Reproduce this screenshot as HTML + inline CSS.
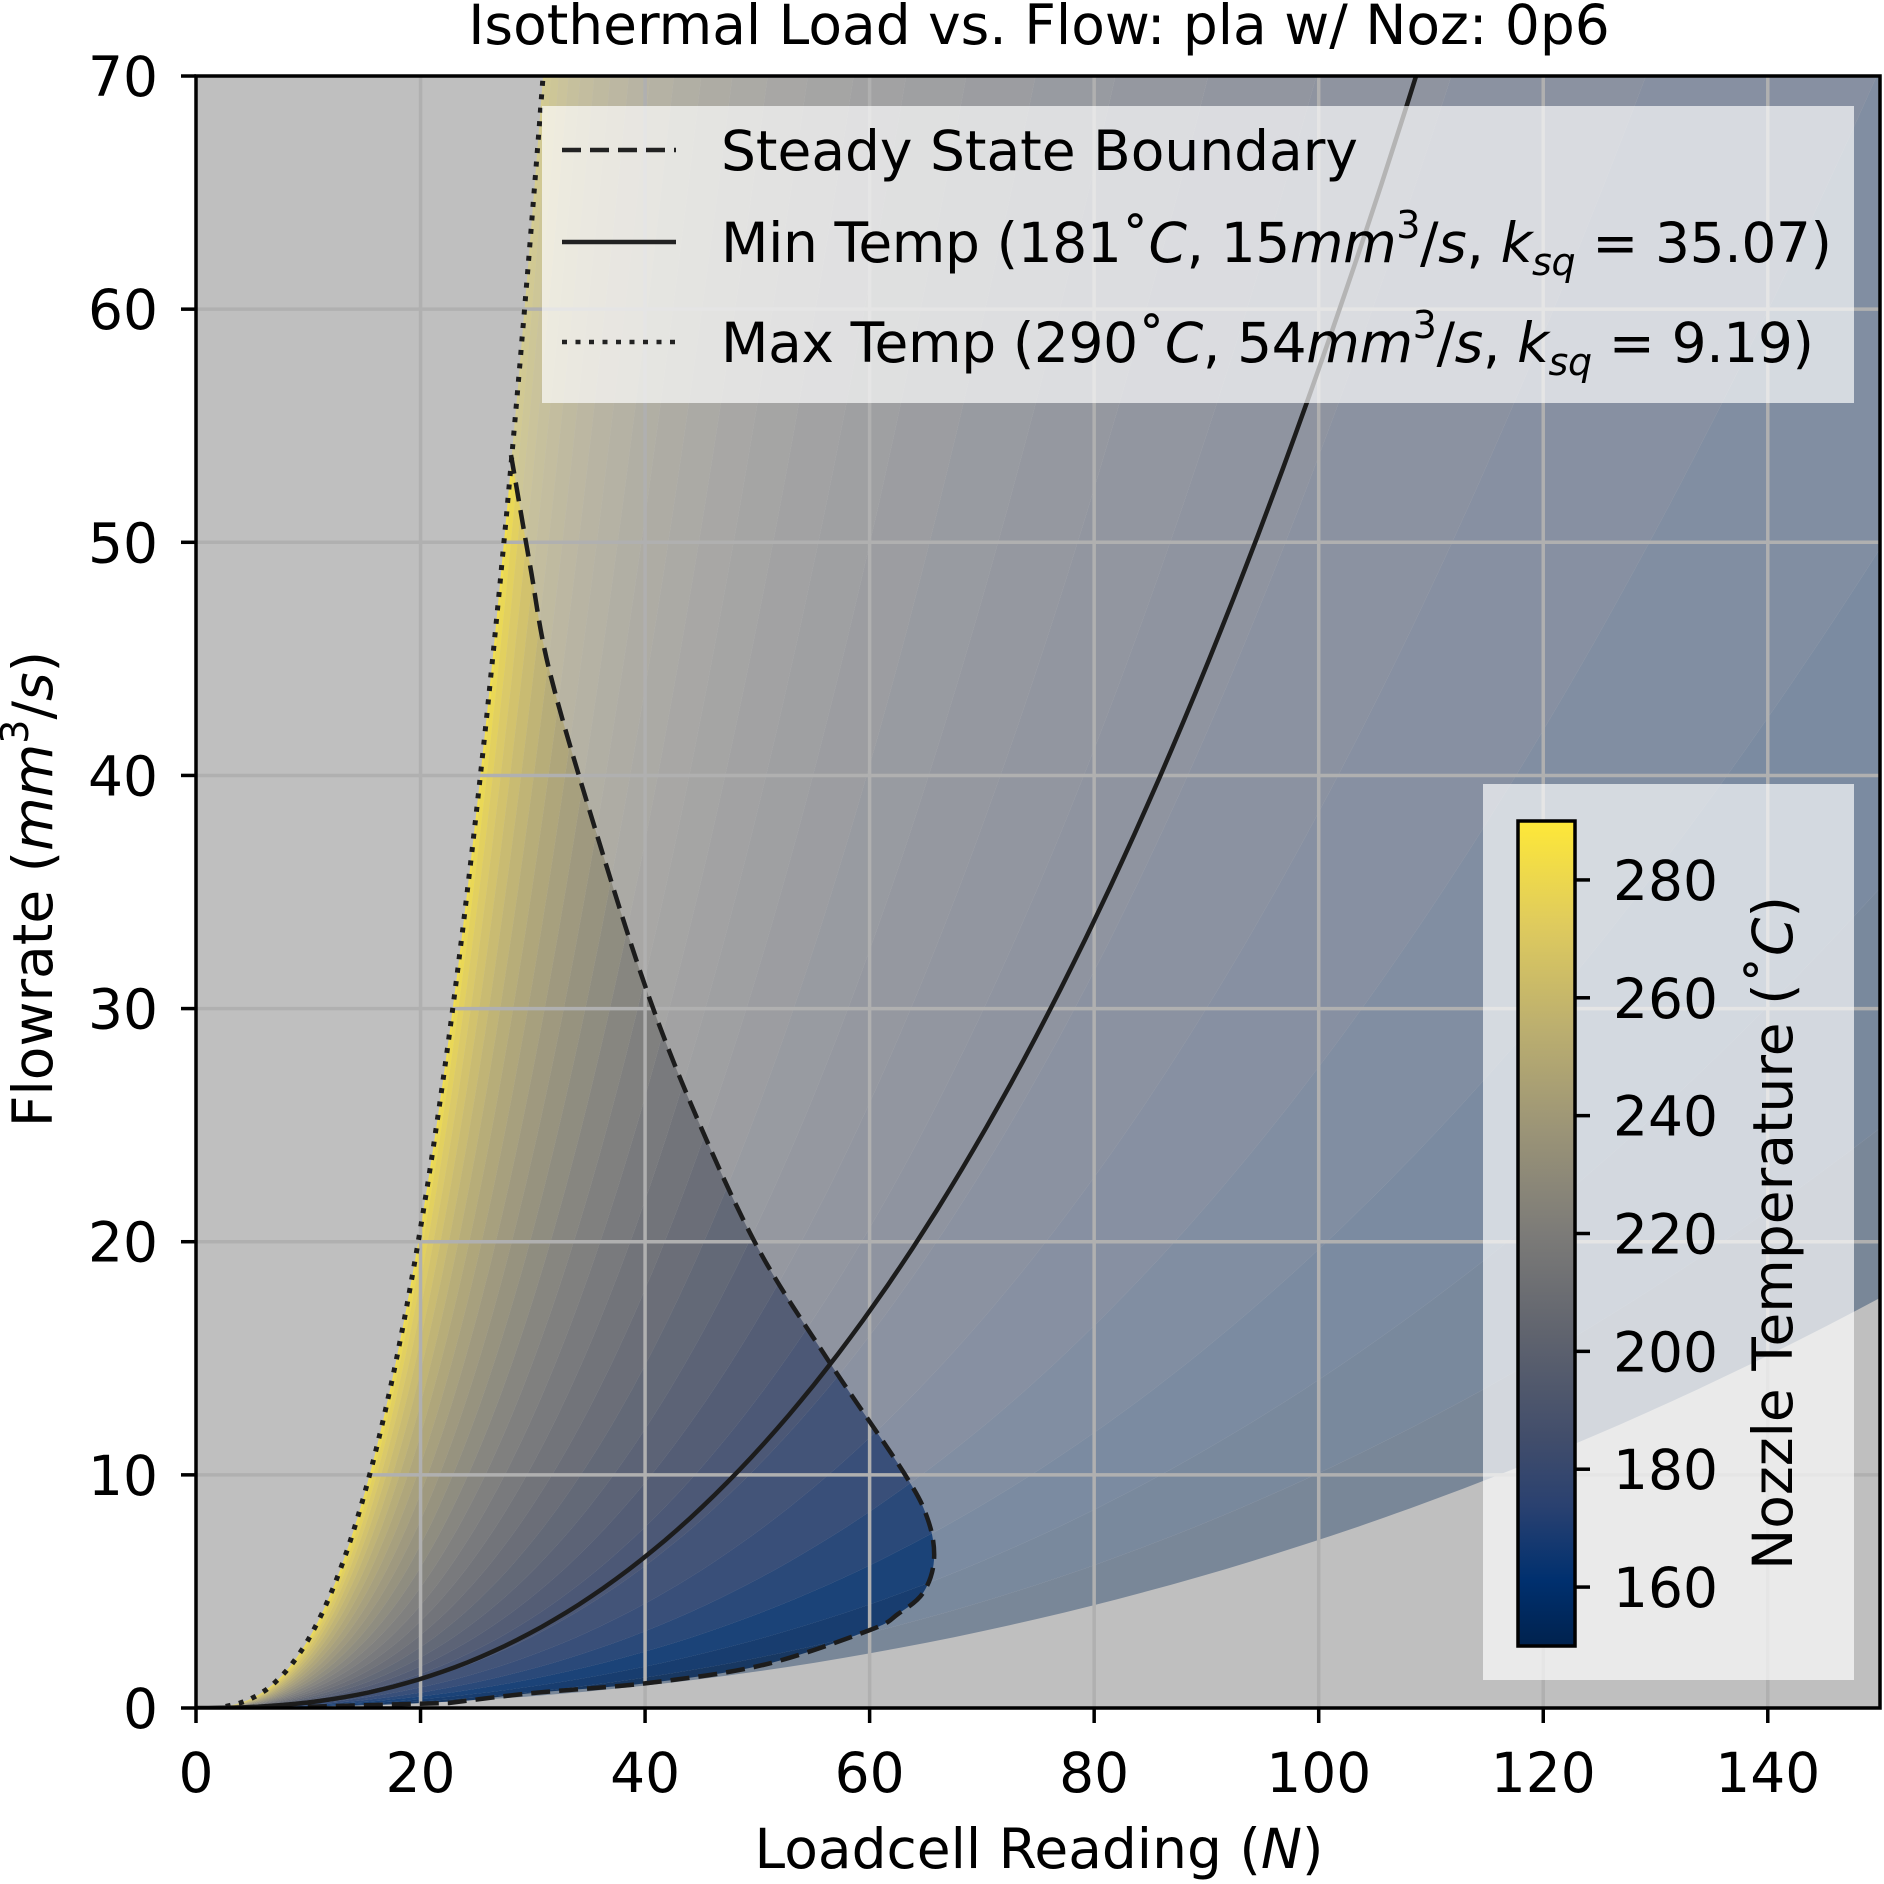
<!DOCTYPE html>
<html><head><meta charset="utf-8">
<style>
html,body{margin:0;padding:0;background:#fff;}
svg{display:block;}
text{font-family:"DejaVu Sans","Liberation Sans",sans-serif;fill:#000;}
</style></head>
<body>
<svg id="s" xmlns="http://www.w3.org/2000/svg" width="1884" height="1884" viewBox="0 0 1884 1884">
<defs>
<clipPath id="ax"><rect x="196" y="76" width="1684" height="1632"/></clipPath>
<clipPath id="ss"><path id="ssp" d=""/></clipPath>
<linearGradient id="cg" x1="0" y1="1" x2="0" y2="0">
<stop offset="0" stop-color="#00224e"/><stop offset="0.08" stop-color="#00306f"/>
<stop offset="0.17" stop-color="#2a4170"/><stop offset="0.25" stop-color="#414d6b"/>
<stop offset="0.375" stop-color="#5f636e"/><stop offset="0.5" stop-color="#7c7b78"/>
<stop offset="0.625" stop-color="#9b9477"/><stop offset="0.75" stop-color="#bcaf6f"/>
<stop offset="0.875" stop-color="#dfcb5d"/><stop offset="1" stop-color="#fee838"/>
</linearGradient>
</defs>
<rect x="196" y="76" width="1684" height="1632" fill="#bfbfbf"/>
<g id="outer" clip-path="url(#ax)" opacity="0.36"></g>
<g clip-path="url(#ax)" opacity="0.8"><g id="inner" clip-path="url(#ss)"></g></g>
<g id="grid" stroke="#b0b0b0" stroke-width="3.5"></g>
<g id="curves" clip-path="url(#ax)" fill="none"></g>
<!-- legend -->
<rect x="542" y="106" width="1312" height="297" fill="#ffffff" fill-opacity="0.67"/>
<g stroke="#222" stroke-width="4.5">
<line x1="562" y1="150" x2="676" y2="150" stroke-dasharray="19 9"/>
<line x1="562" y1="242" x2="676" y2="242"/>
<line x1="562" y1="342" x2="676" y2="342" stroke-dasharray="5 8.5"/>
</g>
<text x="721" y="170" font-size="55">Steady State Boundary</text>
<text x="721" y="262" font-size="55" textLength="1111" lengthAdjust="spacing">Min Temp (181˚<tspan font-style="italic">C</tspan>, 15<tspan font-style="italic">mm</tspan><tspan font-size="38" dy="-24">3</tspan><tspan dy="24">/</tspan><tspan font-style="italic">s</tspan>, <tspan font-style="italic">k</tspan><tspan font-size="38" font-style="italic" dy="13">sq</tspan><tspan dy="-13"> = 35.07)</tspan></text>
<text x="721" y="362" font-size="55" textLength="1093" lengthAdjust="spacing">Max Temp (290˚<tspan font-style="italic">C</tspan>, 54<tspan font-style="italic">mm</tspan><tspan font-size="38" dy="-24">3</tspan><tspan dy="24">/</tspan><tspan font-style="italic">s</tspan>, <tspan font-style="italic">k</tspan><tspan font-size="38" font-style="italic" dy="13">sq</tspan><tspan dy="-13"> = 9.19)</tspan></text>
<!-- colorbar -->
<rect x="1483" y="784" width="371" height="896" fill="#ffffff" fill-opacity="0.67"/>
<rect x="1518" y="821" width="57" height="825" fill="url(#cg)" stroke="#000" stroke-width="3.5"/>
<g id="cbt" stroke="#000" stroke-width="3.5"></g>
<g id="cbl" font-size="55"></g>
<text transform="translate(1792,1233) rotate(-90)" text-anchor="middle" font-size="55">Nozzle Temperature (˚<tspan font-style="italic">C</tspan>)</text>
<!-- spines -->
<rect x="196" y="76" width="1684" height="1632" fill="none" stroke="#000" stroke-width="3.5"/>
<g id="ticks" stroke="#000" stroke-width="3.5"></g>
<g id="tl" font-size="55"></g>
<text x="1039" y="44" text-anchor="middle" font-size="55">Isothermal Load vs. Flow: pla w/ Noz: 0p6</text>
<text x="1039" y="1868" text-anchor="middle" font-size="55">Loadcell Reading (<tspan font-style="italic">N</tspan>)</text>
<text transform="translate(52,889) rotate(-90)" text-anchor="middle" font-size="55">Flowrate (<tspan font-style="italic">mm</tspan><tspan font-size="38" dy="-24">3</tspan><tspan dy="24">/</tspan><tspan font-style="italic">s</tspan>)</text>
</svg>
<script>
(function(){
var NS="http://www.w3.org/2000/svg";
function X(n){return 196+11.227*n;}
function Y(f){return 1708-23.314*f;}
function el(p,t,a,txt){var e=document.createElementNS(NS,t);for(var k in a)e.setAttribute(k,a[k]);if(txt!=null)e.textContent=txt;document.getElementById(p).appendChild(e);return e;}
var stops=[[0,[0,34,78]],[0.08,[0,48,111]],[0.17,[42,65,112]],[0.25,[65,77,107]],[0.375,[95,99,110]],[0.5,[124,123,120]],[0.625,[155,148,119]],[0.75,[188,175,111]],[0.875,[223,203,93]],[1,[254,232,56]]];
function cmap(v){v=Math.max(0,Math.min(1,v));for(var i=1;i<stops.length;i++){if(v<=stops[i][0]){var a=stops[i-1],b=stops[i],t=(v-a[0])/(b[0]-a[0]);var c=[0,1,2].map(function(j){return Math.round(a[1][j]+(b[1][j]-a[1][j])*t);});return "rgb("+c.join(",")+")";}}return "rgb(254,232,56)";}
function par(T){var s,p,lc;if(T>=181){s=Math.pow((290-T)/109,1.6);p=2.81-0.43*s;lc=-5.393-1.517*s;}else{s=(181-T)/31;p=2.38-0.18*s;lc=-6.910-1.246*s;}return [p,lc];}
function iso(T){var q=par(T),pts=[];for(var i=0;i<=120;i++){var F=70*Math.pow(i/120,2);var N=F<=0?0:Math.exp((Math.log(F)-q[1])/q[0]);if(N>400)N=400;pts.push([X(N),Y(F)]);}return pts;}
function band(g,T1,T2){var a=iso(T1),b=iso(T2).reverse();var pts=a.concat(b);var d="M"+pts.map(function(p){return p[0].toFixed(1)+","+p[1].toFixed(1);}).join("L")+"Z";el(g,"path",{d:d,fill:cmap(((T1+T2)/2-150)/140)});}
for(var T=150;T<290;T+=5){band("outer",T,T+5);band("inner",T,T+5);}
function cr(pts){var d="M"+pts[0][0]+","+pts[0][1];for(var i=0;i<pts.length-1;i++){var p0=pts[i-1]||pts[i],p1=pts[i],p2=pts[i+1],p3=pts[i+2]||p2;var c1=[p1[0]+(p2[0]-p0[0])/6,p1[1]+(p2[1]-p0[1])/6],c2=[p2[0]-(p3[0]-p1[0])/6,p2[1]-(p3[1]-p1[1])/6];d+="C"+c1[0].toFixed(1)+","+c1[1].toFixed(1)+" "+c2[0].toFixed(1)+","+c2[1].toFixed(1)+" "+p2[0]+","+p2[1];}return d;}
var dash=[[511,455],[530,565],[550,673],[597,835],[649,997],[700,1125],[759,1250],[828,1360],[904,1473],[928,1520],[934,1560],[923,1593],[898,1614],[870,1630],[763,1665],[648,1683],[533,1693],[449,1703]];
var A=0.004547,pA=2.81,dot=[];
for(var i=0;i<=100;i++){var F=70*Math.pow(i/100,1.5);var N=F<=0?0:Math.pow(F/A,1/pA);dot.push([X(N),Y(F)]);}
var dotTo=[];for(var i=0;i<=60;i++){var F=53.75*Math.pow(i/60,1.5);var N=F<=0?0:Math.pow(F/A,1/pA);dotTo.push([X(N).toFixed(1),Y(F).toFixed(1)]);}
var ssd="M"+dotTo.map(function(p){return p.join(",");}).join("L")+cr(dash).replace(/^M[^C]*/,"L511,455")+"L300,1707L196,1708Z";
document.getElementById("ssp").setAttribute("d",ssd);
for(var n=20;n<150;n+=20)el("grid","line",{x1:X(n),y1:76,x2:X(n),y2:1708});
for(var f=10;f<70;f+=10)el("grid","line",{x1:196,y1:Y(f),x2:1880,y2:Y(f)});
var sol=[];for(var i=0;i<=100;i++){var N=110*i/100;sol.push([X(N).toFixed(1),Y(9.98e-4*Math.pow(N,2.38)).toFixed(1)]);}
el("curves","path",{d:"M"+sol.map(function(p){return p.join(",");}).join("L"),stroke:"#1c1c1c","stroke-width":4.5});
el("curves","path",{d:cr(dash)+"L300,1707",stroke:"#1c1c1c","stroke-width":4.5,"stroke-dasharray":"19 9"});
var dp=dot.filter(function(p){return p[0]>=222;});
el("curves","path",{d:"M"+dp.map(function(p){return p[0].toFixed(1)+","+p[1].toFixed(1);}).join("L"),stroke:"#1c1c1c","stroke-width":5,"stroke-dasharray":"5 8.5"});
for(var n=0;n<=140;n+=20){el("ticks","line",{x1:X(n),y1:1708,x2:X(n),y2:1723});el("tl","text",{x:X(n),y:1792,"text-anchor":"middle"},String(n));}
for(var f=0;f<=70;f+=10){el("ticks","line",{x1:181,y1:Y(f),x2:196,y2:Y(f)});el("tl","text",{x:158,y:Y(f)+20,"text-anchor":"end"},String(f));}
for(var t=160;t<=280;t+=20){var y=1646-(t-150)/140*825;el("cbt","line",{x1:1575,y1:y,x2:1590,y2:y});el("cbl","text",{x:1613,y:y+20},String(t));}
})();
</script>
</body></html>
